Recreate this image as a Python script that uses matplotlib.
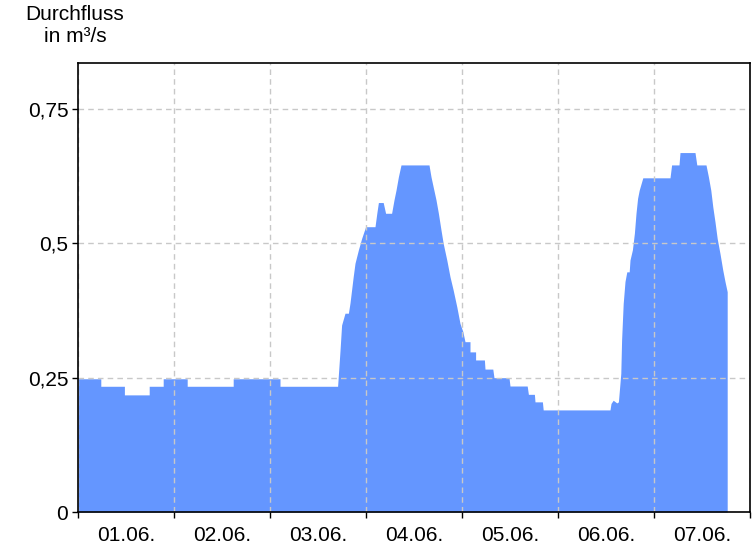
import numpy as np
import matplotlib.pyplot as plt

plt.rcParams['font.family'] = ['Liberation Sans', 'DejaVu Sans']

# time in hours since 01.06. 00:00, discharge in m³/s
hours = [0, 5.7, 5.7, 11.6, 11.6, 17.8, 17.8, 21.3, 21.3, 27.3, 27.3, 38.8, 38.8, 50.5, 50.5, 64.9,
         65.5, 65.9, 66.75, 67.6, 68.0, 68.8, 69.25, 70.1, 70.9, 71.9, 74.25, 74.7, 75.1, 76.3, 76.9,
         78.4, 79.0, 79.5, 80.1, 80.75, 87.75, 88.25, 88.8, 89.5, 90.1, 90.75, 91.3, 92.2, 93.0, 93.8,
         94.7, 95.5, 96.2, 96.75, 98.0, 98.0, 99.4, 99.4, 101.6, 101.75, 103.7, 104.0, 107.75, 108.0,
         112.3, 112.6, 114.1, 114.25, 116.1, 116.3, 133.0, 133.25, 133.8, 134.7, 135.1, 135.7, 135.9,
         136.3, 136.75, 137.2, 137.8, 138.0, 138.6, 139.1, 139.5, 139.9, 140.3, 141.2, 148.0, 148.4,
         150.25, 150.5, 154.25, 154.7, 157.0, 157.6, 158.2, 158.7, 159.25, 159.8, 160.5, 161.2,
         161.75, 162.3]
flow = [0.248, 0.248, 0.234, 0.234, 0.218, 0.218, 0.234, 0.234, 0.248, 0.248, 0.234, 0.234, 0.248,
        0.248, 0.234, 0.234,
        0.30, 0.348, 0.370, 0.370, 0.389, 0.438, 0.463, 0.488, 0.509, 0.531, 0.531, 0.556, 0.576,
        0.576, 0.556, 0.556, 0.581, 0.599, 0.624, 0.646, 0.646, 0.624, 0.605, 0.581, 0.556, 0.525,
        0.500, 0.469, 0.438, 0.413, 0.382, 0.351, 0.336, 0.317, 0.317, 0.298, 0.298, 0.283, 0.283,
        0.266, 0.266, 0.250, 0.250, 0.2345, 0.2345, 0.219, 0.219, 0.205, 0.205, 0.190, 0.190, 0.202,
        0.208, 0.203, 0.205, 0.258, 0.32, 0.388, 0.429, 0.447, 0.447, 0.469, 0.488, 0.519, 0.556,
        0.584, 0.599, 0.622, 0.622, 0.646, 0.646, 0.669, 0.669, 0.646, 0.646, 0.624, 0.599, 0.568,
        0.540, 0.509, 0.481, 0.450, 0.429, 0.410]

day_labels = ['01.06.', '02.06.', '03.06.', '04.06.', '05.06.', '06.06.', '07.06.']
y_ticks = [0, 0.25, 0.5, 0.75]
y_labels = ['0', '0,25', '0,5', '0,75']

fig = plt.figure(figsize=(7.56, 5.46), dpi=100)
ax = fig.add_axes([78 / 756, 1 - 512 / 546, 672 / 756, 449 / 546])

ax.fill_between(hours, 0, flow, color='#6496ff', linewidth=0, zorder=1)

ax.set_xlim(0, 168)
ax.set_ylim(0, 0.8357)

# gridlines at midnight, labels at noon
ax.set_xticks(np.arange(0, 169, 24))
ax.set_xticklabels([])
ax.set_xticks(np.arange(12, 168, 24), minor=True)
ax.set_xticklabels(day_labels, minor=True, fontsize=15)
ax.tick_params(axis='x', which='minor', length=0, pad=10)
ax.tick_params(axis='x', which='major', length=4, width=1)

ax.set_yticks(y_ticks)
ax.set_yticklabels(y_labels, fontsize=15)
ax.tick_params(axis='y', length=4, width=1, pad=3)

ax.grid(True, which='major', color='#c8c8c8', linestyle=(0, (4, 3)), linewidth=1, zorder=2)
ax.set_axisbelow(False)

for s in ax.spines.values():
    s.set_linewidth(1.2)
    s.set_zorder(3)

# unit label above the y axis
fig.text(75 / 756, 1 - 15 / 546, 'Durchfluss', ha='center', va='center', fontsize=15)
fig.text(75 / 756, 1 - 37 / 546, 'in m³/s', ha='center', va='center', fontsize=15)

fig.savefig('out.png', dpi=100)
